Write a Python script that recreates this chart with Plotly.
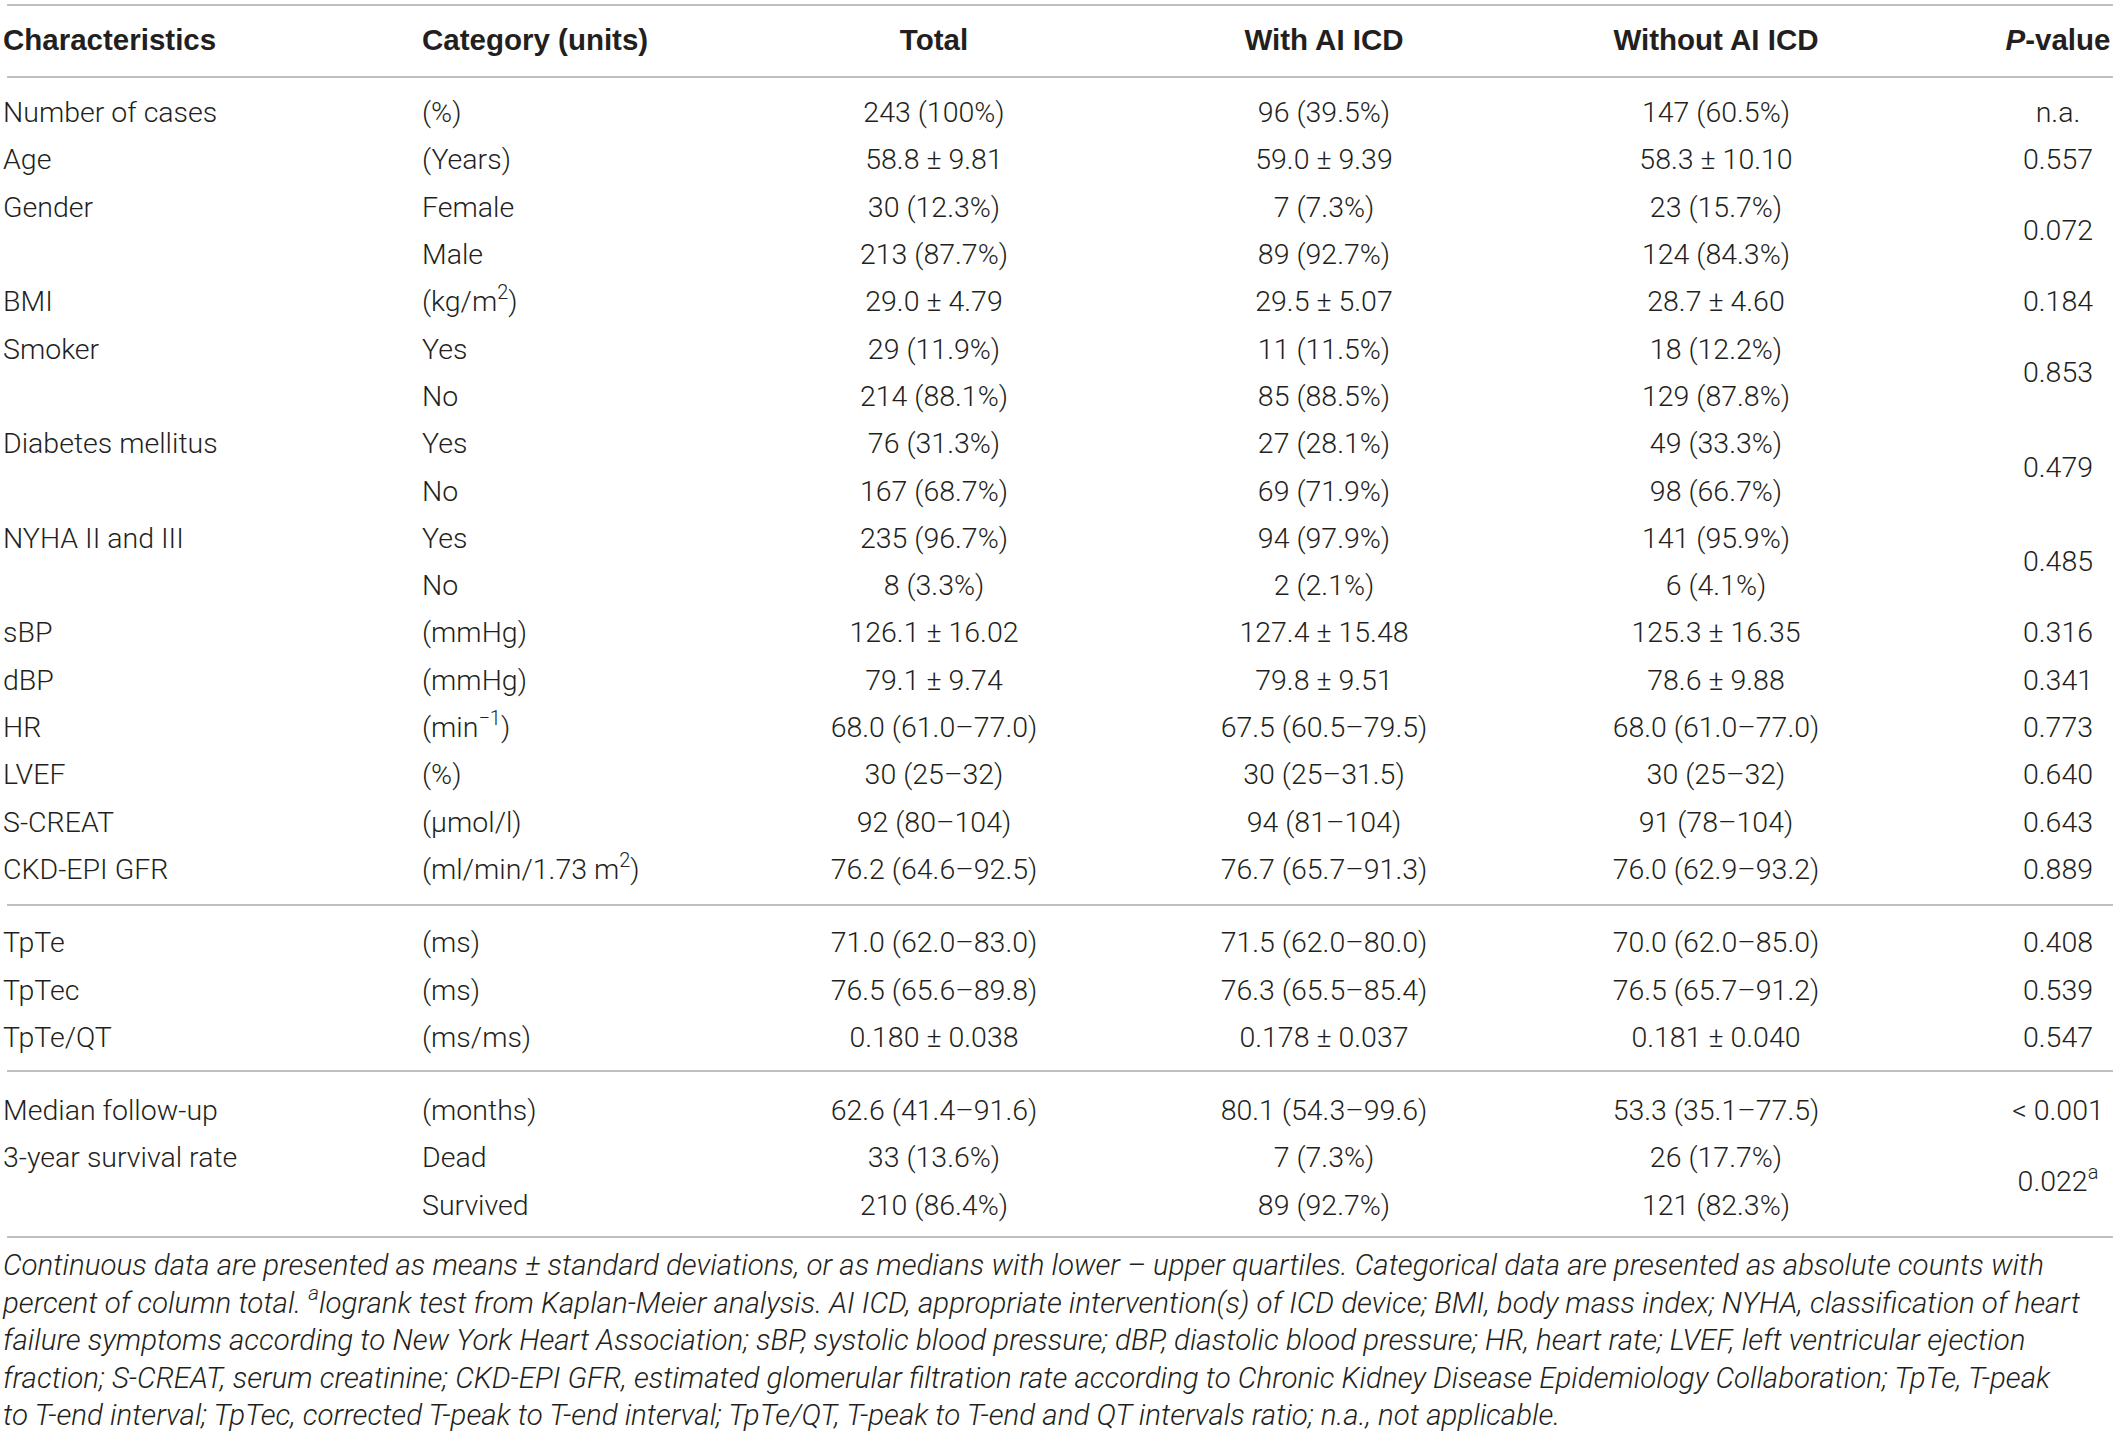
import plotly.graph_objects as go

# table content, one entry per body row
characteristics = ["Number of cases", "Age", "Gender", "", "BMI", "Smoker", "",
                   "Diabetes mellitus", "", "NYHA II and III", "", "sBP", "dBP", "HR",
                   "LVEF", "S-CREAT", "CKD-EPI GFR", "TpTe", "TpTec", "TpTe/QT",
                   "Median follow-up", "3-year survival rate", ""]
categories = ["(%)", "(Years)", "Female", "Male", "(kg/m<sup>2</sup>)", "Yes", "No", "Yes", "No",
              "Yes", "No", "(mmHg)", "(mmHg)", "(min<sup>\u22121</sup>)", "(%)", "(\u03bcmol/l)",
              "(ml/min/1.73 m<sup>2</sup>)", "(ms)", "(ms)", "(ms/ms)", "(months)", "Dead", "Survived"]
total = ["243 (100%)", "58.8 \u00b1 9.81", "30 (12.3%)", "213 (87.7%)", "29.0 \u00b1 4.79",
         "29 (11.9%)", "214 (88.1%)", "76 (31.3%)", "167 (68.7%)", "235 (96.7%)", "8 (3.3%)",
         "126.1 \u00b1 16.02", "79.1 \u00b1 9.74", "68.0 (61.0\u201377.0)", "30 (25\u201332)",
         "92 (80\u2013104)", "76.2 (64.6\u201392.5)", "71.0 (62.0\u201383.0)", "76.5 (65.6\u201389.8)",
         "0.180 \u00b1 0.038", "62.6 (41.4\u201391.6)", "33 (13.6%)", "210 (86.4%)"]
with_ai = ["96 (39.5%)", "59.0 \u00b1 9.39", "7 (7.3%)", "89 (92.7%)", "29.5 \u00b1 5.07",
           "11 (11.5%)", "85 (88.5%)", "27 (28.1%)", "69 (71.9%)", "94 (97.9%)", "2 (2.1%)",
           "127.4 \u00b1 15.48", "79.8 \u00b1 9.51", "67.5 (60.5\u201379.5)", "30 (25\u201331.5)",
           "94 (81\u2013104)", "76.7 (65.7\u201391.3)", "71.5 (62.0\u201380.0)", "76.3 (65.5\u201385.4)",
           "0.178 \u00b1 0.037", "80.1 (54.3\u201399.6)", "7 (7.3%)", "89 (92.7%)"]
without_ai = ["147 (60.5%)", "58.3 \u00b1 10.10", "23 (15.7%)", "124 (84.3%)", "28.7 \u00b1 4.60",
              "18 (12.2%)", "129 (87.8%)", "49 (33.3%)", "98 (66.7%)", "141 (95.9%)", "6 (4.1%)",
              "125.3 \u00b1 16.35", "78.6 \u00b1 9.88", "68.0 (61.0\u201377.0)", "30 (25\u201332)",
              "91 (78\u2013104)", "76.0 (62.9\u201393.2)", "70.0 (62.0\u201385.0)", "76.5 (65.7\u201391.2)",
              "0.181 \u00b1 0.040", "53.3 (35.1\u201377.5)", "26 (17.7%)", "121 (82.3%)"]

# p-values and the (possibly fractional) row they sit on
p_values = ["n.a.", "0.557", "0.072", "0.184", "0.853", "0.479", "0.485", "0.316", "0.341",
            "0.773", "0.640", "0.643", "0.889", "0.408", "0.539", "0.547", "< 0.001",
            "0.022<sup>a</sup>"]
p_rows = [0, 1, 2.5, 4, 5.5, 7.5, 9.5, 11, 12, 13, 14, 15, 16, 17, 18, 19, 20, 21.5]

headers = ["Characteristics", "Category (units)", "Total", "With AI ICD", "Without AI ICD",
           "<i>P</i>-value"]

footnote = [
    "Continuous data are presented as means \u00b1 standard deviations, or as medians with lower \u2013 upper quartiles. Categorical data are presented as absolute counts with",
    "percent of column total. <sup>a</sup>logrank test from Kaplan-Meier analysis. AI ICD, appropriate intervention(s) of ICD device; BMI, body mass index; NYHA, classification of heart",
    "failure symptoms according to New York Heart Association; sBP, systolic blood pressure; dBP, diastolic blood pressure; HR, heart rate; LVEF, left ventricular ejection",
    "fraction; S-CREAT, serum creatinine; CKD-EPI GFR, estimated glomerular filtration rate according to Chronic Kidney Disease Epidemiology Collaboration; TpTe, T-peak",
    "to T-end interval; TpTec, corrected T-peak to T-end interval; TpTe/QT, T-peak to T-end and QT intervals ratio; n.a., not applicable.",
]

W, H = 2120, 1435
TXT = "#231f20"
RULE = "#ababab"
FONT = "Roboto"
FS = 28.5

# layout in pixels
row0, pitch, gap = 115, 47.3, 26
x_char, x_cat, x_tot, x_with, x_without, x_p = 7, 426, 934, 1324, 1716, 2058
x_left, x_right = 7, 2113
header_y = 43
rules_y = [5, 77, 905, 1071, 1237]
foot_y0, foot_pitch = 1268, 37.5


def row_y(r):
    y = row0 + pitch * r
    if r >= 17:
        y += gap
    if r >= 20:
        y += gap
    return y


body_font = dict(family=FONT, size=FS, color=TXT, weight=300)

fig = go.Figure()


def text_trace(xs, ys, texts, pos, font):
    keep = [i for i, t in enumerate(texts) if t]
    fig.add_trace(go.Scatter(x=[xs[i] for i in keep], y=[ys[i] for i in keep],
                             text=[texts[i] for i in keep], mode="text", textposition=pos,
                             textfont=font, hoverinfo="skip", showlegend=False,
                             cliponaxis=False))


n = len(total)
rows_y = [row_y(i) for i in range(n)]
text_trace([x_char - 4] * n, rows_y, characteristics, "middle right", body_font)
text_trace([x_cat - 4] * n, rows_y, categories, "middle right", body_font)
text_trace([x_tot] * n, rows_y, total, "middle center", body_font)
text_trace([x_with] * n, rows_y, with_ai, "middle center", body_font)
text_trace([x_without] * n, rows_y, without_ai, "middle center", body_font)
text_trace([x_p] * len(p_values), [row_y(r) for r in p_rows], p_values, "middle center", body_font)

head_font = dict(family="Liberation Sans", size=29.5, color=TXT, weight=700)
text_trace([x_char - 4, x_cat - 4], [header_y] * 2, headers[:2], "middle right", head_font)
text_trace([x_tot, x_with, x_without, x_p], [header_y] * 4, headers[2:], "middle center", head_font)

foot_font = dict(family=FONT, size=29.5, color=TXT, weight=300, style="italic")
text_trace([x_left - 4] * len(footnote), [foot_y0 + foot_pitch * i for i in range(len(footnote))],
           footnote, "middle right", foot_font)

for y in rules_y:
    fig.add_shape(type="line", x0=x_left, x1=x_right, y0=y, y1=y,
                  line=dict(color=RULE, width=1.6))

fig.update_layout(
    width=W, height=H,
    margin=dict(l=0, r=0, t=0, b=0),
    paper_bgcolor="white", plot_bgcolor="white",
    xaxis=dict(range=[0, W], visible=False, fixedrange=True),
    yaxis=dict(range=[H, 0], visible=False, fixedrange=True),
)

fig.write_html("out.html", config={"displayModeBar": False},
               post_script="document.body.style.margin='0';")
